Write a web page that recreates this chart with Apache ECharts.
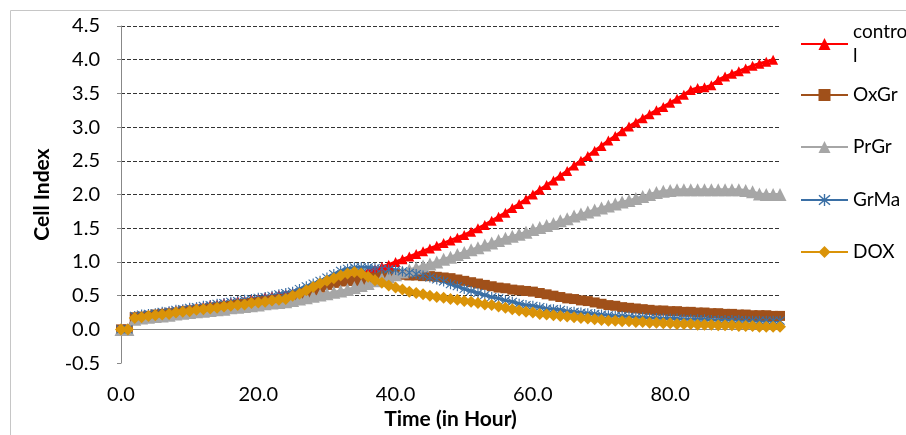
<!DOCTYPE html>
<html>
<head>
<meta charset="utf-8">
<script src="https://cdn.jsdelivr.net/npm/echarts@6/dist/echarts.min.js"></script>
<style>
html,body{margin:0;padding:0;background:#fff;}
#chart{width:906px;height:435px;}
</style>
</head>
<body>
<div id="chart"></div>
<script>
// Time points (hours), one per category
var times = [0,1,2,3,4,5,6,7,8,9,10,11,12,13,14,15,16,17,18,19,20,21,22,23,24,25,26,27,28,29,30,31,32,33,34,35,36,37,38,39,40,41,42,43,44,45,46,47,48,49,50,51,52,53,54,55,56,57,58,59,60,61,62,63,64,65,66,67,68,69,70,71,72,73,74,75,76,77,78,79,80,81,82,83,84,85,86,87,88,89,90,91,92,93,94,95,96];

var seriesNames = ['control','OxGr','PrGr','GrMa','DOX'];

var control = [0,0.01,0.19,0.2,0.22,0.23,0.25,0.26,0.28,0.29,0.31,0.33,0.34,0.36,0.37,0.39,0.4,0.42,0.43,0.45,0.46,0.48,0.49,0.51,0.52,0.54,0.56,0.58,0.61,0.64,0.67,0.7,0.73,0.76,0.79,0.82,0.86,0.89,0.93,0.96,1.0,1.04,1.08,1.12,1.16,1.2,1.24,1.28,1.32,1.36,1.4,1.45,1.5,1.55,1.61,1.67,1.73,1.8,1.86,1.93,2.0,2.07,2.14,2.21,2.28,2.35,2.43,2.5,2.57,2.65,2.72,2.8,2.87,2.94,3.01,3.07,3.13,3.19,3.25,3.3,3.36,3.42,3.48,3.55,3.58,3.59,3.62,3.7,3.75,3.79,3.83,3.87,3.91,3.94,3.97,4.0,null];

var oxgr = [0,0,0.18,0.19,0.2,0.22,0.23,0.24,0.25,0.27,0.28,0.29,0.3,0.32,0.33,0.34,0.35,0.37,0.38,0.39,0.4,0.42,0.43,0.44,0.45,0.47,0.5,0.54,0.58,0.62,0.66,0.69,0.71,0.72,0.72,0.73,0.75,0.77,0.79,0.8,0.81,0.81,0.8,0.8,0.79,0.79,0.78,0.77,0.76,0.74,0.72,0.7,0.68,0.66,0.64,0.62,0.61,0.59,0.58,0.57,0.56,0.54,0.52,0.5,0.48,0.46,0.45,0.43,0.42,0.4,0.38,0.36,0.35,0.33,0.32,0.31,0.3,0.29,0.28,0.28,0.27,0.27,0.26,0.26,0.25,0.25,0.24,0.24,0.23,0.23,0.22,0.22,0.21,0.21,0.21,0.2,0.2];

var prgr = [0,0,0.15,0.17,0.18,0.19,0.2,0.21,0.23,0.24,0.25,0.26,0.27,0.28,0.29,0.3,0.32,0.33,0.34,0.35,0.36,0.38,0.39,0.4,0.41,0.43,0.45,0.47,0.49,0.51,0.53,0.55,0.57,0.59,0.62,0.65,0.68,0.72,0.75,0.78,0.81,0.85,0.88,0.91,0.94,0.97,1.0,1.04,1.07,1.11,1.14,1.18,1.21,1.25,1.28,1.32,1.35,1.38,1.41,1.44,1.48,1.51,1.54,1.57,1.61,1.64,1.68,1.71,1.74,1.77,1.8,1.83,1.86,1.89,1.91,1.94,1.97,2.0,2.03,2.05,2.06,2.07,2.07,2.07,2.07,2.07,2.07,2.07,2.07,2.07,2.07,2.06,2.04,2.01,2.0,2.0,2.0];

var grma = [0,0,0.2,0.22,0.23,0.24,0.26,0.27,0.29,0.3,0.32,0.33,0.35,0.36,0.38,0.39,0.41,0.42,0.44,0.45,0.47,0.48,0.5,0.52,0.54,0.56,0.6,0.64,0.68,0.72,0.77,0.82,0.87,0.9,0.92,0.92,0.92,0.91,0.9,0.89,0.88,0.86,0.84,0.82,0.8,0.77,0.74,0.71,0.67,0.64,0.6,0.57,0.54,0.51,0.48,0.46,0.43,0.41,0.38,0.36,0.35,0.33,0.31,0.3,0.29,0.27,0.26,0.25,0.24,0.23,0.22,0.21,0.2,0.2,0.19,0.18,0.18,0.17,0.17,0.16,0.16,0.16,0.15,0.15,0.15,0.15,0.14,0.14,0.14,0.14,0.14,0.13,0.13,0.13,0.13,0.13,0.13];

var dox = [0,0,0.17,0.18,0.2,0.21,0.22,0.23,0.25,0.26,0.27,0.29,0.3,0.31,0.32,0.34,0.35,0.36,0.37,0.39,0.4,0.41,0.43,0.44,0.45,0.5,0.53,0.58,0.63,0.68,0.72,0.76,0.8,0.83,0.85,0.83,0.78,0.73,0.69,0.65,0.62,0.59,0.56,0.54,0.52,0.5,0.48,0.47,0.45,0.44,0.42,0.41,0.39,0.37,0.36,0.34,0.32,0.3,0.28,0.26,0.25,0.23,0.22,0.21,0.2,0.19,0.18,0.17,0.16,0.15,0.14,0.13,0.13,0.12,0.12,0.11,0.11,0.1,0.1,0.09,0.09,0.08,0.08,0.08,0.07,0.07,0.07,0.06,0.06,0.06,0.05,0.05,0.05,0.04,0.04,0.04,0.04];

var yTicks = [-0.5,0,0.5,1,1.5,2,2.5,3,3.5,4,4.5];

var colors = ['#FF0000','#A0501A','#A6A6A6','#3A6FA5','#DA9308'];
var symbols = ['triangle','rect','triangle',
  'path://M9,0 L11,0 L11,20 L9,20 Z M1.4,2.8 L2.8,1.4 L18.6,17.2 L17.2,18.6 Z M17.2,1.4 L18.6,2.8 L2.8,18.6 L1.4,17.2 Z',
  'diamond'];
var symbolSizes = [10,10,13,10,12];
var dataSets = [control, oxgr, prgr, grma, dox];

var FONT = 'Lato';

var series = seriesNames.map(function(n,i){
  return {
    name: n,
    type: 'line',
    data: dataSets[i],
    symbol: symbols[i],
    symbolSize: symbolSizes[i],
    showAllSymbol: true,
    connectNulls: false,
    lineStyle: {color: colors[i], width: 3},
    itemStyle: {color: colors[i]}
  };
});

var legendTops = [8, 84, 136, 189, 241];
var legends = seriesNames.map(function(n,i){
  var ts = {fontFamily: FONT, fontSize: 19, color: '#000', lineHeight: 22};
  if (i === 0) { ts.lineHeight = 24; ts.padding = [24,0,0,0]; }
  return {
    data: [n],
    orient: 'vertical',
    left: 800,
    top: legendTops[i],
    padding: 0,
    itemWidth: 47,
    itemHeight: 15,
    itemGap: 0,
    textStyle: ts,
    formatter: function(name){ return name === 'control' ? 'contro\nl' : name; },
    selectedMode: false
  };
});

var splitColors = yTicks.map(function(v,i){ return i === 0 ? 'rgba(0,0,0,0)' : '#333333'; });

var chart = echarts.init(document.getElementById('chart'), null, {renderer:'canvas'});
chart.setOption({
  animation: false,
  backgroundColor: '#fff',
  color: colors,
  graphic: [{
    type: 'rect', silent: true, z: -10,
    shape: {x: 10.5, y: 10.5, width: 1000, height: 1000},
    style: {fill: 'none', stroke: '#C6C6C6', lineWidth: 1}
  }],
  grid: {left: 121, right: 126, top: 26, bottom: 65, containLabel: false},
  legend: legends,
  xAxis: {
    type: 'category',
    data: times,
    boundaryGap: false,
    name: 'Time (in Hour)',
    nameLocation: 'middle',
    nameGap: 40,
    nameTextStyle: {fontFamily: FONT, fontSize: 21, fontWeight: 'bold', color: '#000'},
    axisLine: {lineStyle: {color: '#888888', width: 1}},
    axisTick: {show: false},
    axisLabel: {
      interval: 19,
      margin: 21,
      fontFamily: FONT, fontSize: 20, color: '#000',
      formatter: function(v){ return Number(v).toFixed(1); }
    },
    splitLine: {show: false}
  },
  yAxis: {
    type: 'value',
    min: -0.5, max: 4.5, interval: 0.5,
    name: 'Cell Index',
    nameLocation: 'middle',
    nameRotate: 90,
    nameGap: 68,
    nameTextStyle: {fontFamily: FONT, fontSize: 21, fontWeight: 'bold', color: '#000'},
    axisLine: {show: true, lineStyle: {color: '#888888', width: 1}},
    axisTick: {show: true, length: 4, lineStyle: {color: '#888888'}},
    axisLabel: {
      margin: 21,
      fontFamily: FONT, fontSize: 20, color: '#000',
      formatter: function(v){ return v.toFixed(1); }
    },
    splitLine: {show: true, lineStyle: {color: splitColors, type: [4,2], width: 1}}
  },
  series: series
});
</script>
</body>
</html>
